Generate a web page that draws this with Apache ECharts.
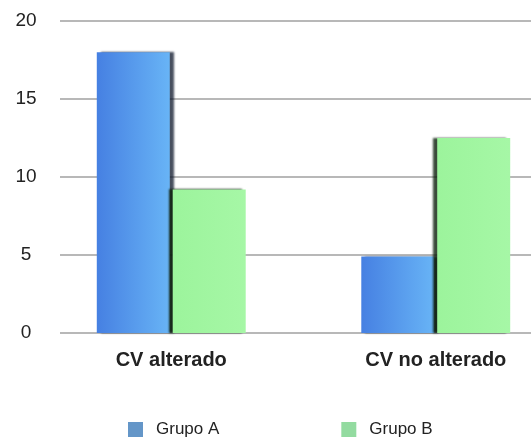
<!DOCTYPE html>
<html>
<head>
<meta charset="utf-8">
<script src="https://cdn.jsdelivr.net/npm/echarts@6/dist/echarts.min.js"></script>
<style>html,body{margin:0;padding:0;background:#fff;}#c{width:531px;height:437px;}</style>
</head>
<body>
<div id="c"></div>
<script>
const categories = ['CV alterado', 'CV no alterado'];
const grupoA = [18, 4.9];
const grupoB = [9.2, 12.5];
const yTicks = [0, 5, 10, 15, 20];

const chart = echarts.init(document.getElementById('c'), null, {renderer: 'canvas'});
const font = '"Liberation Sans", Arial, sans-serif';
chart.setOption({
  animation: false,
  backgroundColor: '#ffffff',
  legend: {
    top: 416,
    left: 123,
    itemGap: 122,
    itemWidth: 15,
    itemHeight: 15,
    textStyle: {fontFamily: font, fontSize: 17, color: '#222', padding: [0, 0, 0, 8]},
    data: [
      {name: 'Grupo A', icon: 'rect', itemStyle: {color: '#6496c8'}},
      {name: 'Grupo B', icon: 'rect', itemStyle: {color: '#93dba0'}}
    ]
  },
  grid: [
    {left: 60, right: 0, top: 21, bottom: 104, outerBoundsMode: 'none'},
    {left: 39, width: 529, top: 21, bottom: 104, outerBoundsMode: 'none'}
  ],
  xAxis: [
    {type: 'category', gridIndex: 0, data: categories, show: false},
    {type: 'category', gridIndex: 1, data: categories,
     axisLine: {show: false}, axisTick: {show: false},
     axisLabel: {fontFamily: font, fontSize: 20, color: '#222', margin: 17, fontWeight: 'bold'}}
  ],
  yAxis: [
    {type: 'value', gridIndex: 0, min: yTicks[0], max: yTicks[yTicks.length - 1], interval: 5,
     axisLine: {show: false}, axisTick: {show: false},
     axisLabel: {fontFamily: font, fontSize: 19, color: '#222', align: 'center', margin: 34},
     splitLine: {lineStyle: {color: '#b8b8b8', width: 2}}},
    {type: 'value', gridIndex: 1, min: yTicks[0], max: yTicks[yTicks.length - 1], interval: 5, show: false}
  ],
  series: [
    {name: 'Grupo A', type: 'bar', xAxisIndex: 1, yAxisIndex: 1, data: grupoA,
     barWidth: 73, barGap: '4%',
     itemStyle: {
       color: new echarts.graphic.LinearGradient(0, 0, 1, 0, [
         {offset: 0, color: '#4680e2'}, {offset: 1, color: '#68b4f6'}]),
       shadowColor: 'rgba(10,20,40,0.75)', shadowOffsetX: 4, shadowBlur: 2
     }},
    {name: 'Grupo B', type: 'bar', xAxisIndex: 1, yAxisIndex: 1, data: grupoB,
     barWidth: 73,
     itemStyle: {
       color: new echarts.graphic.LinearGradient(0, 0, 1, 0, [
         {offset: 0, color: '#9cf49c'}, {offset: 1, color: '#a6f7a6'}]),
       shadowColor: 'rgba(10,30,10,0.8)', shadowOffsetX: -4, shadowBlur: 2
     }}
  ]
});
</script>
</body>
</html>
